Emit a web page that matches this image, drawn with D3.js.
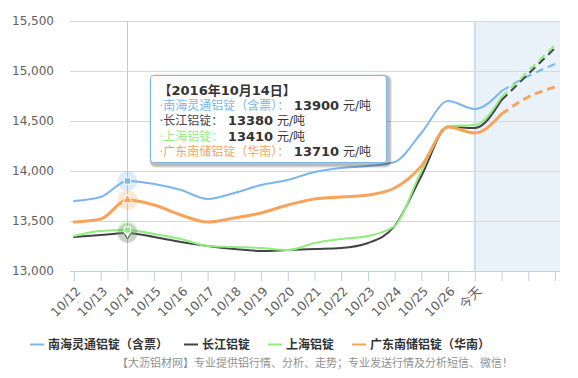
<!DOCTYPE html>
<html>
<head>
<meta charset="utf-8">
<script src="https://cdn.jsdelivr.net/npm/d3@7/dist/d3.min.js"></script>
<style>
  body { margin: 0; background: #fff; }
  svg { display: block; font-family: "DejaVu Sans", "Noto Sans CJK SC", sans-serif; }
</style>
</head>
<body>
<div id="chart"></div>
<script>
// categories: 15 past days, today, then 3 forecast slots without labels
const categories = ["10/12", "10/13", "10/14", "10/15", "10/16", "10/17", "10/18", "10/19", "10/20",
  "10/21", "10/22", "10/23", "10/24", "10/25", "10/26", "今天", "", "", ""];
const yTicks = [13000, 13500, 14000, 14500, 15000, 15500];

const seriesNames = ["南海灵通铝锭（含票）", "长江铝锭", "上海铝锭", "广东南储铝锭（华南）"];
const nanhai = [13700, 13740, 13900, 13870, 13810, 13720, 13780, 13860, 13910, 13990,
  14030, 14050, 14090, 14380, 14700, 14620, 14800, 14950, 15070];
const changjiang = [13340, 13360, 13380, 13340, 13290, 13250, 13220, 13200, 13210, 13220,
  13230, 13280, 13450, 13950, 14440, 14430, 14710, 14970, 15230];
const shanghai = [13350, 13400, 13410, 13370, 13320, 13250, 13240, 13230, 13210, 13280,
  13320, 13350, 13450, 14000, 14450, 14460, 14740, 15000, 15260];
const guangdong = [13490, 13520, 13710, 13660, 13560, 13490, 13530, 13580, 13660, 13720,
  13740, 13760, 13830, 14050, 14440, 14380, 14570, 14740, 14840];

const todayIndex = 15;
const forecastFrom = 16;
const hoverIndex = 2;
const tooltipTitle = "【2016年10月14日】";
const unit = "元/吨";
const footerText = "【大沥铝材网】专业提供铝行情、分析、走势；专业发送行情及分析短信、微信！";

const width = 578;
const height = 378;
const plot = {left: 70, right: 560, top: 21, bottom: 271};

const series = [
  {name: seriesNames[0], values: nanhai, color: "#7cb5ec", width: 2, symbol: d3.symbolSquare, fill: "#7cb5ec"},
  {name: seriesNames[1], values: changjiang, color: "#434348", width: 2, symbol: d3.symbolDiamond, fill: "#fff"},
  {name: seriesNames[2], values: shanghai, color: "#90ed7d", width: 2, symbol: d3.symbolSquare, fill: "#90ed7d"},
  {name: seriesNames[3], values: guangdong, color: "#f7a35c", width: 3, symbol: d3.symbolTriangle, fill: "#f7a35c"}
];

const svg = d3.select("#chart")
  .append("svg")
  .attr("width", width)
  .attr("height", height);

const x = d3.scalePoint()
  .domain(d3.range(categories.length))
  .range([74, 555]);

const y = d3.scaleLinear()
  .domain([13000, 15500])
  .range([plot.bottom, plot.top]);

// forecast band
svg.append("rect")
  .attr("x", x(todayIndex))
  .attr("y", plot.top)
  .attr("width", plot.right - x(todayIndex))
  .attr("height", plot.bottom - plot.top)
  .attr("fill", "#e9f2f9");
svg.append("line")
  .attr("x1", x(todayIndex)).attr("x2", x(todayIndex))
  .attr("y1", plot.top).attr("y2", plot.bottom)
  .attr("stroke", "#c6dff0")
  .attr("stroke-width", 2);

// grid
svg.append("g")
  .selectAll("line")
  .data(yTicks)
  .enter().append("line")
  .attr("x1", plot.left).attr("x2", plot.right)
  .attr("y1", d => Math.round(y(d)) + 0.5)
  .attr("y2", d => Math.round(y(d)) + 0.5)
  .attr("stroke", "#d8d8d8");

// crosshair
svg.append("line")
  .attr("x1", Math.round(x(hoverIndex)) + 0.5).attr("x2", Math.round(x(hoverIndex)) + 0.5)
  .attr("y1", plot.top).attr("y2", plot.bottom)
  .attr("stroke", "#c8c8c8");

// y axis
const yAxis = svg.append("g")
  .attr("transform", `translate(${plot.left - 16}, 0)`)
  .call(d3.axisLeft(y).tickValues(yTicks).tickSize(0).tickFormat(d3.format(",")));
yAxis.select(".domain").remove();
yAxis.selectAll("text")
  .attr("x", 0)
  .attr("fill", "#606060")
  .style("font-size", "12px")
  .style("font-family", "DejaVu Sans");

// x axis
const xAxis = svg.append("g")
  .attr("transform", `translate(0, ${plot.bottom})`)
  .call(d3.axisBottom(x).tickSize(10).tickSizeOuter(0).tickFormat(i => categories[i]));
xAxis.select(".domain")
  .attr("d", `M${plot.left},0.5H${plot.right}`)
  .attr("stroke", "#c0d0e0");
xAxis.selectAll(".tick line").attr("stroke", "#c0d0e0");
xAxis.selectAll(".tick text")
  .attr("y", 0)
  .attr("dy", 0)
  .attr("text-anchor", "end")
  .attr("transform", "translate(7, 21) rotate(-45)")
  .attr("fill", "#606060")
  .style("font-size", "12.5px")
  .style("font-family", "DejaVu Sans, Noto Sans CJK SC");

// lines
const line = d3.line()
  .x(d => x(d.i))
  .y(d => y(d.v))
  .curve(d3.curveMonotoneX);

const lines = svg.append("g").attr("fill", "none").attr("stroke-linecap", "round");
series.forEach(s => {
  const pts = s.values.map((v, i) => ({i, v}));
  lines.append("path")
    .attr("d", line(pts.slice(0, forecastFrom + 1)))
    .attr("stroke", s.color)
    .attr("stroke-width", s.width);
  lines.append("path")
    .attr("d", line(pts.slice(forecastFrom)))
    .attr("stroke", s.color)
    .attr("stroke-width", s.width)
    .attr("stroke-linecap", "butt")
    .attr("stroke-dasharray", "8,5");
});

// hover markers
const hover = svg.append("g");
series.forEach(s => {
  hover.append("circle")
    .attr("cx", x(hoverIndex)).attr("cy", y(s.values[hoverIndex])).attr("r", 10)
    .attr("fill", s.color)
    .attr("fill-opacity", 0.25);
});
series.forEach(s => {
  hover.append("path")
    .attr("transform", `translate(${x(hoverIndex)}, ${y(s.values[hoverIndex])})`)
    .attr("d", d3.symbol().type(s.symbol).size(40)())
    .attr("fill", s.fill)
    .attr("stroke", s.fill === "#fff" ? s.color : "#fff")
    .attr("stroke-width", 1);
});

// tooltip
const tip = svg.append("g").attr("transform", "translate(150.5, 75.5)");
[3, 2, 1].forEach(k => {
  tip.append("rect")
    .attr("x", 1).attr("y", 1)
    .attr("width", 236).attr("height", 87)
    .attr("rx", 3)
    .attr("fill", "none")
    .attr("stroke", "#000")
    .attr("stroke-opacity", 0.05 * k)
    .attr("stroke-width", k * 2)
    .attr("transform", "translate(1, 1)");
});
tip.append("rect")
  .attr("width", 236).attr("height", 87)
  .attr("rx", 3)
  .attr("fill", "rgba(255,255,255,0.96)")
  .attr("stroke", "#7cb5ec");

const tipText = tip.append("text")
  .style("font-family", "DejaVu Sans, Noto Sans CJK SC")
  .style("font-size", "12px")
  .attr("fill", "#333");
tipText.append("tspan")
  .attr("x", 8).attr("y", 19)
  .attr("font-weight", "bold")
  .style("font-size", "13px")
  .text(tooltipTitle);
series.forEach((s, k) => {
  tipText.append("tspan")
    .attr("x", 9).attr("y", 34 + k * 15.5)
    .attr("fill", s.color)
    .text("·");
  tipText.append("tspan").attr("fill", s.color).text(s.name + "：");
  tipText.append("tspan").attr("font-weight", "bold").attr("fill", "#333")
    .style("font-size", "13px")
    .text(" " + s.values[hoverIndex]);
  tipText.append("tspan").attr("fill", "#333").text(" " + unit);
});

// legend
const legendX = [30, 184, 268, 352];
const legend = svg.append("g")
  .style("font-family", "Noto Sans CJK SC")
  .style("font-size", "12px")
  .style("font-weight", "bold");
series.forEach((s, k) => {
  legend.append("line")
    .attr("x1", legendX[k]).attr("x2", legendX[k] + 14)
    .attr("y1", 344.5).attr("y2", 344.5)
    .attr("stroke", s.color)
    .attr("stroke-width", 2);
  legend.append("text")
    .attr("x", legendX[k] + 18)
    .attr("y", 349)
    .attr("fill", "#333")
    .text(s.name);
});

svg.append("text")
  .attr("x", 117)
  .attr("y", 367)
  .attr("fill", "#909090")
  .style("font-family", "Noto Sans CJK SC")
  .style("font-size", "11px")
  .text(footerText);
</script>
</body>
</html>
